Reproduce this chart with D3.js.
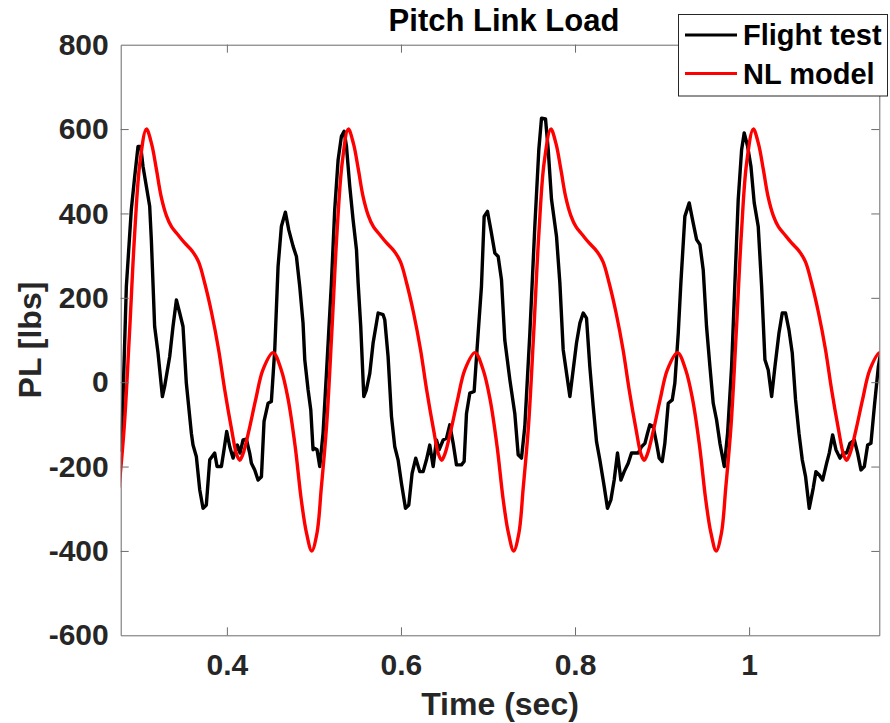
<!DOCTYPE html>
<html>
<head>
<meta charset="utf-8">
<script src="https://cdn.jsdelivr.net/npm/d3@7"></script>
<style>
  html, body { margin: 0; padding: 0; background: #fff; }
  svg text { font-family: "Liberation Sans", Arial, Helvetica, sans-serif; font-weight: bold; fill: #262626; }
</style>
</head>
<body>
<svg id="chart" width="890" height="723"></svg>
<script>
// Pitch link load: flight test record vs. non-linear model (time in s, load in lbs)
const flightTime = [
  0.2780, 0.2806, 0.2845, 0.2902, 0.2941, 0.2979, 0.3010, 0.3036, 0.3075, 0.3113,
  0.3132, 0.3170, 0.3209, 0.3259, 0.3285, 0.3343, 0.3381, 0.3420, 0.3458, 0.3496,
  0.3534, 0.3592, 0.3611, 0.3649, 0.3688, 0.3726, 0.3764, 0.3803, 0.3860, 0.3887,
  0.3937, 0.3967, 0.3998, 0.4033, 0.4071, 0.4121, 0.4151, 0.4186, 0.4224, 0.4262,
  0.4282, 0.4320, 0.4358, 0.4397, 0.4427, 0.4473, 0.4511, 0.4550, 0.4588, 0.4626,
  0.4672, 0.4711, 0.4761, 0.4799, 0.4837, 0.4875, 0.4895, 0.4933, 0.4964, 0.4990,
  0.5010, 0.5036, 0.5067, 0.5105, 0.5144, 0.5201, 0.5239, 0.5278, 0.5316, 0.5347,
  0.5374, 0.5412, 0.5450, 0.5489, 0.5508, 0.5538, 0.5573, 0.5603, 0.5642, 0.5680,
  0.5738, 0.5795, 0.5814, 0.5852, 0.5891, 0.5929, 0.5967, 0.6006, 0.6052, 0.6090,
  0.6128, 0.6170, 0.6216, 0.6255, 0.6293, 0.6331, 0.6370, 0.6408, 0.6439, 0.6485,
  0.6523, 0.6561, 0.6600, 0.6638, 0.6695, 0.6726, 0.6753, 0.6791, 0.6841, 0.6887,
  0.6925, 0.6956, 0.6994, 0.7033, 0.7079, 0.7117, 0.7155, 0.7193, 0.7251, 0.7308,
  0.7347, 0.7385, 0.7423, 0.7481, 0.7538, 0.7584, 0.7615, 0.7661, 0.7692, 0.7730,
  0.7787, 0.7826, 0.7864, 0.7941, 0.8017, 0.8056, 0.8094, 0.8132, 0.8170, 0.8209,
  0.8247, 0.8285, 0.8335, 0.8373, 0.8412, 0.8450, 0.8488, 0.8527, 0.8565, 0.8611,
  0.8649, 0.8726, 0.8764, 0.8803, 0.8833, 0.8860, 0.8898, 0.8937, 0.8967, 0.9002,
  0.9032, 0.9071, 0.9117, 0.9147, 0.9186, 0.9216, 0.9262, 0.9312, 0.9358, 0.9397,
  0.9435, 0.9473, 0.9511, 0.9550, 0.9588, 0.9626, 0.9665, 0.9715, 0.9753, 0.9799,
  0.9837, 0.9875, 0.9914, 0.9944, 0.9983, 1.0021, 1.0059, 1.0105, 1.0144, 1.0182,
  1.0220, 1.0259, 1.0297, 1.0343, 1.0381, 1.0419, 1.0458, 1.0496, 1.0534, 1.0573,
  1.0611, 1.0649, 1.0691, 1.0737, 1.0768, 1.0806, 1.0845, 1.0891, 1.0921, 1.0960,
  1.0998, 1.1044, 1.1082, 1.1121, 1.1159, 1.1209, 1.1247, 1.1285, 1.1324, 1.1362,
  1.1400, 1.1439, 1.1485, 1.1508
];
const flightLoad = [
  -165, -42, 227, 409, 488, 559, 559, 512, 464, 417,
  338, 132, 69, -34, -10, 61, 132, 195, 164, 132,
  -2, -121, -149, -176, -255, -299, -291, -184, -168, -200,
  -200, -160, -117, -153, -180, -149, -168, -137, -135, -168,
  -192, -208, -232, -224, -93, -50, -46, 77, 274, 369,
  403, 361, 322, 298, 227, 140, 53, -18, -66, -160,
  -157, -160, -200, -121, 21, 235, 409, 527, 583, 595,
  559, 464, 385, 314, 235, 132, -34, -18, 21, 93,
  164, 160, 148, 61, -81, -153, -184, -240, -299, -291,
  -216, -180, -212, -212, -184, -149, -200, -137, -160, -137,
  -133, -101, -145, -196, -196, -188, -74, -26, -22, 116,
  227, 393, 405, 361, 306, 298, 243, 100, 6, -74,
  -172, -180, -105, 116, 369, 551, 626, 624, 551, 433,
  346, 235, 77, -34, 93, 140, 164, 152, 37, -58,
  -141, -184, -247, -299, -279, -232, -168, -232, -212, -192,
  -168, -168, -153, -145, -121, -101, -105, -145, -180, -188,
  -145, -50, -42, -2, 116, 235, 393, 425, 377, 338,
  326, 266, 132, 37, -50, -89, -145, -200, -121, 37,
  235, 433, 551, 591, 559, 512, 425, 369, 227, 53,
  29, -34, 37, 116, 164, 164, 124, 69, -42, -121,
  -184, -224, -299, -251, -212, -220, -232, -192, -168, -125,
  -160, -180, -168, -168, -145, -137, -168, -208, -200, -149,
  -145, -58, 37, 65
];

const modelTime = [
  0.2761, 0.2821, 0.2881, 0.2941, 0.3001,
  0.3075, 0.3135, 0.3190, 0.3245, 0.3305, 0.3365, 0.3435, 0.3515, 0.3605, 0.3675,
  0.3745, 0.3825, 0.3905, 0.3975, 0.4055, 0.4110, 0.4147, 0.4185, 0.4255, 0.4330,
  0.4415, 0.4531, 0.4625, 0.4705, 0.4785, 0.4855, 0.4915, 0.4975, 0.5035, 0.5085,
  0.5145, 0.5205, 0.5265, 0.5325,
  0.5395, 0.5455, 0.5510, 0.5565, 0.5625, 0.5685, 0.5755, 0.5835, 0.5925, 0.5995,
  0.6065, 0.6145, 0.6225, 0.6295, 0.6375, 0.6430, 0.6467, 0.6505, 0.6575, 0.6650,
  0.6735, 0.6851, 0.6945, 0.7025, 0.7105, 0.7175, 0.7235, 0.7295, 0.7355, 0.7405,
  0.7465, 0.7525, 0.7585, 0.7645,
  0.7722, 0.7782, 0.7837, 0.7892, 0.7952, 0.8012, 0.8082, 0.8162, 0.8252, 0.8322,
  0.8392, 0.8472, 0.8552, 0.8622, 0.8702, 0.8757, 0.8794, 0.8832, 0.8902, 0.8977,
  0.9062, 0.9178, 0.9272, 0.9352, 0.9432, 0.9502, 0.9562, 0.9622, 0.9682, 0.9732,
  0.9792, 0.9852, 0.9912, 0.9972,
  1.0048, 1.0108, 1.0163, 1.0218, 1.0278, 1.0338, 1.0408, 1.0488, 1.0578, 1.0648,
  1.0718, 1.0798, 1.0878, 1.0948, 1.1028, 1.1083, 1.1120, 1.1158, 1.1228, 1.1303,
  1.1388, 1.1504, 1.1598
];
const modelLoad = [
  -250, -105, 116, 354, 520,
  600, 565, 505, 440, 395, 368, 350, 330, 310, 285,
  235, 164, 77, -18, -113, -170, -185, -170, -113, -42,
  30, 70, 29, -42, -153, -279, -358, -400, -358, -250,
  -105, 116, 354, 520,
  600, 565, 505, 440, 395, 368, 350, 330, 310, 285,
  235, 164, 77, -18, -113, -170, -185, -170, -113, -42,
  30, 70, 29, -42, -153, -279, -358, -400, -358, -250,
  -105, 116, 354, 520,
  600, 565, 505, 440, 395, 368, 350, 330, 310, 285,
  235, 164, 77, -18, -113, -170, -185, -170, -113, -42,
  30, 70, 29, -42, -153, -279, -358, -400, -358, -250,
  -105, 116, 354, 520,
  600, 565, 505, 440, 395, 368, 350, 330, 310, 285,
  235, 164, 77, -18, -113, -170, -185, -170, -113, -42,
  30, 70, 29
];

const xTicks = [0.4, 0.6, 0.8, 1.0];
const xTickLabels = ["0.4", "0.6", "0.8", "1"];
const yTicks = [-600, -400, -200, 0, 200, 400, 600, 800];
const seriesNames = ["Flight test", "NL model"];
const seriesColors = ["#000000", "#ff0000"];
const titleText = "Pitch Link Load";
const xLabelText = "Time (sec)";
const yLabelText = "PL [lbs]";

const svg = d3.select("#chart");
const W = 890, H = 723;
const margin = { left: 120.7, right: W - 879.3, top: 44.7, bottom: H - 635.3 };

const x = d3.scaleLinear().domain([0.278, 1.1496]).range([margin.left, W - margin.right]);
const y = d3.scaleLinear().domain([-600, 800]).range([H - margin.bottom, margin.top]);

const axisColor = "#6b6b6b";
const tickLen = 8;

// clip region for the data lines
svg.append("defs").append("clipPath").attr("id", "plotClip")
  .append("rect")
  .attr("x", x.range()[0]).attr("y", y.range()[1])
  .attr("width", x.range()[1] - x.range()[0])
  .attr("height", y.range()[0] - y.range()[1]);

const plot = svg.append("g").attr("clip-path", "url(#plotClip)");

const flightPts = flightTime.map((t, i) => [t, flightLoad[i]]);
const modelPts = modelTime.map((t, i) => [t, modelLoad[i]]);

const flightLine = d3.line().x(d => x(d[0])).y(d => y(d[1]));
const modelLine = d3.line().x(d => x(d[0])).y(d => y(d[1])).curve(d3.curveCatmullRom.alpha(0.5));

plot.append("path").datum(flightPts)
  .attr("d", flightLine)
  .attr("fill", "none").attr("stroke", seriesColors[0])
  .attr("stroke-width", 3.4).attr("stroke-linejoin", "round");

plot.append("path").datum(modelPts)
  .attr("d", modelLine)
  .attr("fill", "none").attr("stroke", seriesColors[1])
  .attr("stroke-width", 3.4).attr("stroke-linejoin", "round");

// axes: box with inward ticks on all four sides
const gAx = svg.append("g");
const bottomAxis = d3.axisBottom(x).tickValues(xTicks).tickFormat((d, i) => xTickLabels[i])
  .tickSizeInner(-tickLen).tickSizeOuter(0).tickPadding(18);
const topAxis = d3.axisTop(x).tickValues(xTicks).tickFormat("")
  .tickSizeInner(-tickLen).tickSizeOuter(0);
const leftAxis = d3.axisLeft(y).tickValues(yTicks).tickFormat(d => String(d))
  .tickSizeInner(-tickLen).tickSizeOuter(0).tickPadding(12);
const rightAxis = d3.axisRight(y).tickValues(yTicks).tickFormat("")
  .tickSizeInner(-tickLen).tickSizeOuter(0);

function styleAxis(g) {
  g.select(".domain").attr("stroke", axisColor).attr("stroke-width", 1);
  g.selectAll(".tick line").attr("stroke", axisColor).attr("stroke-width", 1);
  g.selectAll(".tick text").attr("font-size", 30).attr("fill", "#262626")
    .attr("font-family", "'Liberation Sans', Arial, sans-serif").attr("font-weight", "bold");
}

gAx.append("g").attr("transform", `translate(0,${y.range()[0]})`).call(bottomAxis).call(styleAxis);
gAx.append("g").attr("transform", `translate(0,${y.range()[1]})`).call(topAxis).call(styleAxis);
gAx.append("g").attr("transform", `translate(${x.range()[0]},0)`).call(leftAxis).call(styleAxis);
gAx.append("g").attr("transform", `translate(${x.range()[1]},0)`).call(rightAxis).call(styleAxis);
// tick marks at the box corners coincide with the frame
gAx.selectAll(".tick").filter(d => d === -600 || d === 800).selectAll("line").remove();

// title and axis labels
const cx = (x.range()[0] + x.range()[1]) / 2;
svg.append("text").attr("x", cx + 4).attr("y", 31).attr("text-anchor", "middle")
  .attr("font-size", 31).style("fill", "#000").text(titleText);
svg.append("text").attr("x", cx).attr("y", 715).attr("text-anchor", "middle")
  .attr("font-size", 32).text(xLabelText);
const cy = (y.range()[0] + y.range()[1]) / 2;
svg.append("text").attr("transform", `translate(41,${cy}) rotate(-90)`)
  .attr("text-anchor", "middle").attr("font-size", 32).text(yLabelText);

// legend
const lg = svg.append("g");
lg.append("rect").attr("x", 678.5).attr("y", 14.5).attr("width", 209).attr("height", 81.5)
  .attr("fill", "#fff").attr("stroke", "#262626").attr("stroke-width", 1);
seriesNames.forEach((name, i) => {
  const ly = 35 + i * 38.5;
  lg.append("line").attr("x1", 685).attr("x2", 737).attr("y1", ly).attr("y2", ly)
    .attr("stroke", seriesColors[i]).attr("stroke-width", 3);
  lg.append("text").attr("x", 743).attr("y", ly + 10).attr("font-size", 29)
    .style("fill", "#000").text(name);
});
</script>
</body>
</html>
